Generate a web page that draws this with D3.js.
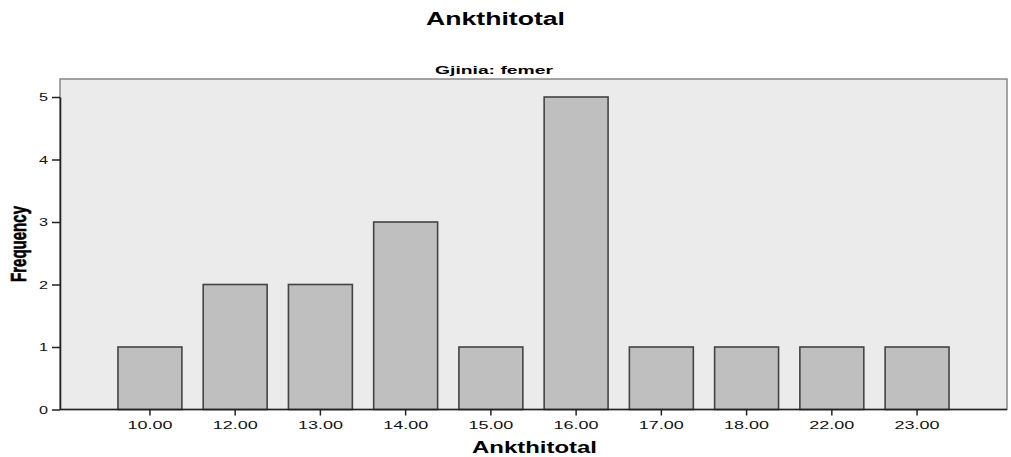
<!DOCTYPE html>
<html><head><meta charset="utf-8">
<script src="https://cdn.jsdelivr.net/npm/d3@7"></script>
<style>body{margin:0;background:#fff}svg{display:block}</style>
</head><body>
<svg id="c" width="1011" height="457"></svg>
<script>
const categories = ["10.00","12.00","13.00","14.00","15.00","16.00","17.00","18.00","22.00","23.00"];
const frequency = [1,2,2,3,1,5,1,1,1,1];
const yTicks = [0,1,2,3,4,5];

const svg = d3.select("#c");
const L=60, R=1007, T=79, B=409.5;
const x = d3.scaleBand().domain(categories).range([L,R]).paddingInner(0.25).paddingOuter(0.68);
const y = d3.scaleLinear().domain([0,5]).range([B,B-312.5]);

svg.append("rect").attr("x",L).attr("y",T).attr("width",R-L).attr("height",B-T)
  .attr("fill","#ebebeb").attr("stroke","#888").attr("stroke-width",1.5);

svg.selectAll(".bar").data(categories).join("rect")
  .attr("x",d=>x(d)).attr("y",(d,i)=>y(frequency[i]))
  .attr("width",x.bandwidth()).attr("height",(d,i)=>y(0)-y(frequency[i]))
  .attr("fill","#bfbfbf").attr("stroke","#444").attr("stroke-width",1.6);

const font = "Arial, 'Liberation Sans', sans-serif";
const xa = svg.append("g").attr("transform",`translate(0,${B})`)
  .call(d3.axisBottom(x).tickSize(6).tickPadding(4).tickSizeOuter(0));
const ya = svg.append("g").attr("transform",`translate(${L},0)`)
  .call(d3.axisLeft(y).tickValues(yTicks).tickFormat(d3.format("d")).tickSize(8).tickPadding(4).tickSizeOuter(0));
[xa,ya].forEach(g=>{
  g.select(".domain").attr("stroke","#222").attr("stroke-width",1.6);
  g.selectAll(".tick line").attr("stroke","#222").attr("stroke-width",1.5);
  g.selectAll("text").attr("font-family",font).attr("font-size",11).attr("fill","#111")
    .attr("lengthAdjust","spacingAndGlyphs");
});
xa.selectAll("text").attr("textLength",45).attr("dy",null).attr("y",19);
ya.selectAll("text").attr("textLength",9);
xa.select(".domain").attr("d",`M${L},0H${R}`);

function label(txt, cx, by, size, len){
  svg.append("text").attr("x",cx).attr("y",by).attr("text-anchor","middle")
    .attr("font-family",font).attr("font-weight","bold").attr("font-size",size)
    .attr("textLength",len).attr("lengthAdjust","spacingAndGlyphs").text(txt);
}
label("Ankthitotal", 495.5, 25, 18, 139);
label("Gjinia: femer", 494, 74, 11, 118);
label("Ankthitotal", 534.5, 453, 16, 125);

svg.append("g").attr("transform","translate(26,244) scale(1.55,1) rotate(-90)")
  .append("text").attr("text-anchor","middle")
  .attr("font-family",font).attr("font-weight","bold").attr("font-size",14.5)
  .attr("stroke","#000").attr("stroke-width",0.4)
  .attr("textLength",76).attr("lengthAdjust","spacingAndGlyphs").text("Frequency");
</script>
</body></html>
